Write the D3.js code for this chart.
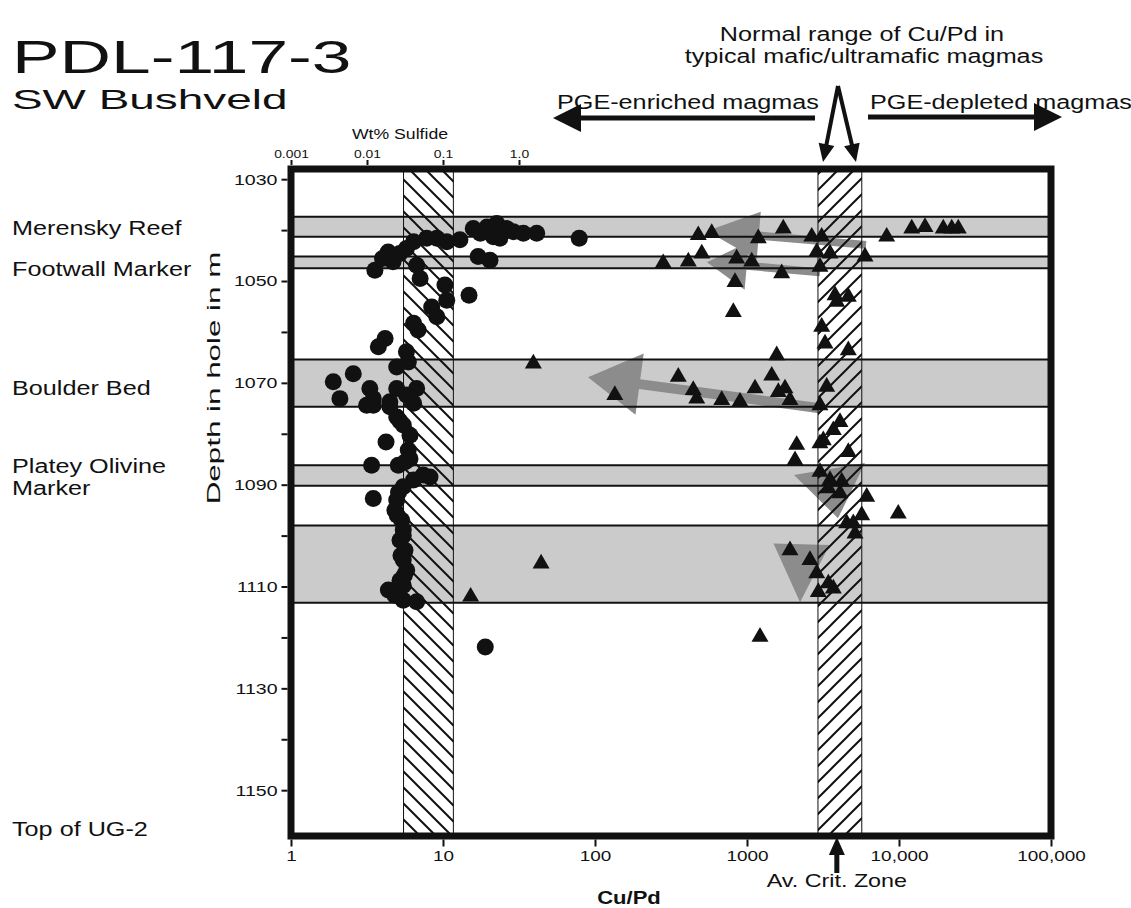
<!DOCTYPE html>
<html><head><meta charset="utf-8">
<script src="https://cdn.jsdelivr.net/npm/d3@7"></script>
<style>
body{margin:0;background:#fff;}
svg{display:block;}
text{font-family:"Liberation Sans",Arial,Helvetica,sans-serif;fill:#111;}
</style>
</head><body>
<svg id="chart" width="1131" height="908"></svg>
<script>
// ---------------- DATA ----------------
const cuPdTicks = [1, 10, 100, 1000, 10000, 100000];
const cuPdTickLabels = ["1", "10", "100", "1000", "10,000", "100,000"];
const sulfideTicks = [0.001, 0.01, 0.1, 1];
const sulfideTickLabels = ["0.001", "0.01", "0.1", "1.0"];
const depthTicks = [1030,1040,1050,1060,1070,1080,1090,1100,1110,1120,1130,1140,1150];
const depthTickLabels = ["1030","","1050","","1070","","1090","","1110","","1130","","1150"];

// stratigraphic layers (depth top, depth bottom) shaded grey
const greyLayers = [[1037.4,1041.3],[1045.2,1047.5],[1065.4,1074.7],[1086.2,1090.2],[1098.0,1113.2]];
const layerNames = ["Merensky Reef","Footwall Marker","Boulder Bed","Platey Olivine","Marker","Top of UG-2"];
const layerNameDepths = [1039.6,1047.6,1070.9,1086.3,1090.6,1157.5];

// hatched reference ranges on Cu/Pd axis
const sulfideRange = [5.5, 11.7];      // wt% sulfide band
const normalCuPdRange = [2930, 5690];  // normal mafic/ultramafic magma range
const avCritZone = 3900;

// wt% sulfide vs depth (circles)  [wt%, depth]
const sulfideData = [
 [6.2,1041.6],[0.25,1039.7],[0.38,1039.4],[0.51,1038.7],[0.69,1039.7],[0.84,1040.3],[1.14,1040.6],[1.71,1040.6],
 [0.56,1041.6],[0.46,1041.3],[0.31,1040.6],[0.167,1041.9],[0.112,1042.3],[0.083,1041.6],[0.061,1041.6],
 [0.041,1042.3],[0.033,1043.6],[0.027,1044.6],[0.019,1044.3],[0.022,1046.2],[0.016,1045.6],[0.0127,1047.9],
 [0.045,1046.9],[0.050,1049.5],[0.29,1045.2],[0.415,1045.9],
 [0.106,1050.8],[0.112,1053.8],[0.071,1055.1],[0.083,1057.0],[0.22,1052.8],[0.041,1058.3],[0.047,1059.6],
 [0.0173,1061.3],[0.0141,1062.9],[0.033,1063.9],[0.035,1065.9],[0.0246,1066.9],
 [0.0036,1069.8],[0.0066,1068.2],[0.0044,1073.1],[0.0109,1071.1],[0.0121,1073.1],[0.0246,1071.1],
 [0.045,1071.1],[0.033,1072.4],[0.020,1073.7],[0.0099,1074.4],[0.0121,1074.4],[0.020,1074.7],[0.041,1074.0],
 [0.0246,1076.7],[0.027,1077.5],[0.030,1078.3],[0.0368,1080.3],[0.0178,1081.6],[0.0349,1083.2],[0.0368,1084.9],
 [0.0115,1086.2],[0.0258,1086.2],[0.055,1088.1],[0.0675,1088.5],[0.041,1089.1],[0.030,1090.4],[0.032,1085.5],
 [0.0121,1092.7],[0.0246,1093.0],[0.026,1091.5],[0.0233,1095.0],[0.025,1096.0],[0.0286,1097.0],[0.030,1098.9],
 [0.030,1100.0],[0.0272,1100.9],[0.0316,1102.9],[0.028,1103.9],[0.030,1104.8],[0.0333,1106.8],[0.031,1107.8],
 [0.0272,1108.8],[0.030,1109.8],[0.0191,1110.7],[0.0233,1111.7],[0.030,1112.7],[0.045,1113.0],[0.36,1121.9]
];

// Cu/Pd vs depth (triangles)  [Cu/Pd, depth]
const cuPdData = [
 [478,1041.0],[586,1040.6],[1733,1039.7],[1187,1041.6],[2666,1041.3],[3100,1041.3],[8300,1041.3],
 [12130,1039.7],[14830,1039.4],[19550,1039.7],[22230,1039.7],[24550,1039.7],
 [504,1044.6],[411,1046.2],[281,1046.5],[855,1045.6],[1074,1046.2],[1691,1048.5],[2875,1044.3],
 [3516,1044.6],[5975,1045.2],[3020,1047.2],[834,1050.2],[813,1056.1],[3795,1052.8],[4640,1053.1],
 [3890,1054.1],[3100,1059.0],[3260,1062.3],[4640,1063.6],[1568,1064.6],[39.3,1066.2],
 [1454,1068.6],[353,1068.8],[443,1071.4],[1129,1071.1],[1607,1071.8],[1778,1071.1],[3345,1070.8],
 [135,1072.4],[467,1073.1],[682,1073.4],[899,1073.7],[1918,1073.4],[3020,1074.4],
 [4090,1077.7],[3698,1079.3],[3177,1081.3],[2123,1082.2],[2070,1085.2],[3020,1081.9],[4640,1083.6],
 [3020,1087.5],[3516,1089.1],[4200,1089.4],[3428,1090.7],[4090,1091.7],[6133,1092.4],[9890,1095.7],
 [5685,1096.0],[5003,1097.6],[4528,1097.6],[5137,1099.6],[1918,1102.9],[2596,1104.8],[44.2,1105.5],
 [2875,1107.4],[3428,1109.4],[3698,1110.4],[2945,1111.1],[15.2,1112.0],[1218,1119.9]
];

// grey trend arrows: [from Cu/Pd, from depth] -> [to Cu/Pd, to depth]
const trendFrom = [[6067,1042.9],[3020,1048.3],[3020,1075.0],[3490,1086.9],[2284,1101.7]];
const trendTo   = [[545,1040.2],[545,1046.3],[90,1068.9],[3970,1096.6],[2233,1113.1]];

// ---------------- DRAWING ----------------
const svg = d3.select("#chart");
const L = 291, R = 1051, T = 169, B = 836;
const x = d3.scaleLog().domain([1, 1e5]).range([L, R]);
const xs = d3.scaleLog().domain([0.001, 1e7]).range([L, R]);
const y = d3.scaleLinear().domain([1028, 1159]).range([T, B]);
const INK = "#111";
const K = 1.26; // horizontal stretch of the lettering in the original figure

function stretch(sel, k){
  sel.each(function(){
    const w = this.getComputedTextLength();
    this.setAttribute("textLength", (w*(k||K)).toFixed(1));
    this.setAttribute("lengthAdjust","spacingAndGlyphs");
  });
}
function arrowPts(x0,y0,x1,y1,len,hw,sw){
  const dx=x1-x0, dy=y1-y0, Ln=Math.hypot(dx,dy), ux=dx/Ln, uy=dy/Ln, px=-uy, py=ux;
  const bx=x1-ux*len, by=y1-uy*len;
  const pts=[];
  const shaft = Ln>len+1 && sw>0;
  if (shaft) pts.push([x0+px*sw/2,y0+py*sw/2],[bx+px*sw/2,by+py*sw/2]);
  pts.push([bx+px*hw,by+py*hw],[x1,y1],[bx-px*hw,by-py*hw]);
  if (shaft) pts.push([bx-px*sw/2,by-py*sw/2],[x0-px*sw/2,y0-py*sw/2]);
  return pts;
}

const defs = svg.append("defs");
const p1 = defs.append("pattern").attr("id","hatchBack").attr("patternUnits","userSpaceOnUse")
  .attr("width",16).attr("height",16);
p1.append("path").attr("d","M-4,-4 L20,20 M-4,12 L4,20 M12,-4 L20,4").attr("stroke",INK).attr("stroke-width",2);
const p2 = defs.append("pattern").attr("id","hatchFwd").attr("patternUnits","userSpaceOnUse")
  .attr("width",16).attr("height",16);
p2.append("path").attr("d","M-4,20 L20,-4 M-4,4 L4,-4 M12,20 L20,12").attr("stroke",INK).attr("stroke-width",2);

svg.append("rect").attr("width",1131).attr("height",908).attr("fill","#fff");

// grey layers
svg.append("g").selectAll("rect").data(greyLayers).join("rect")
  .attr("x",L).attr("width",R-L)
  .attr("y",d=>y(d[0])).attr("height",d=>y(d[1])-y(d[0]))
  .attr("fill","#cbcbcb");

// grey trend arrows
const heads = [[52,24,8],[40,24,8],[52,31,10],[50,36,0],[58,28,0]];
svg.append("g").selectAll("polygon").data(trendFrom).join("polygon")
  .attr("points",(d,i)=>arrowPts(x(d[0]),y(d[1]),x(trendTo[i][0]),y(trendTo[i][1]),heads[i][0],heads[i][1],heads[i][2]).map(p=>p.join(",")).join(" "))
  .attr("fill","#8c8c8c");

// hatched bands
[[sulfideRange,"hatchBack"],[normalCuPdRange,"hatchFwd"]].forEach(([r,id])=>{
  svg.append("rect").attr("x",x(r[0])).attr("width",x(r[1])-x(r[0]))
    .attr("y",T).attr("height",B-T).attr("fill",`url(#${id})`)
    .attr("stroke",INK).attr("stroke-width",1);
});

// layer boundary lines
const bounds = greyLayers.flat();
svg.append("g").selectAll("line").data(bounds).join("line")
  .attr("x1",L).attr("x2",R).attr("y1",d=>y(d)).attr("y2",d=>y(d))
  .attr("stroke",INK).attr("stroke-width",2);

// markers
svg.append("g").selectAll("circle").data(sulfideData).join("circle")
  .attr("cx",d=>xs(d[0])).attr("cy",d=>y(d[1])).attr("r",8.5).attr("fill",INK);
const tri = d3.symbol(d3.symbolTriangle, 125);
svg.append("g").selectAll("path").data(cuPdData).join("path")
  .attr("d",tri).attr("transform",d=>`translate(${x(d[0])},${y(d[1])})`).attr("fill",INK);

// axes
const gB = svg.append("g").attr("transform",`translate(0,${B+3.5})`)
  .call(d3.axisBottom(x).tickValues(cuPdTicks).tickFormat((d,i)=>cuPdTickLabels[i]).tickSize(7).tickPadding(4));
const gT = svg.append("g").attr("transform",`translate(0,${T-4})`)
  .call(d3.axisTop(xs).tickValues(sulfideTicks).tickFormat((d,i)=>sulfideTickLabels[i]).tickSize(5).tickPadding(2));
const gL = svg.append("g").attr("transform",`translate(${L-3.5},0)`)
  .call(d3.axisLeft(y).tickValues(depthTicks).tickFormat((d,i)=>depthTickLabels[i]).tickSize(6).tickPadding(4));
[gB,gT,gL].forEach(g=>{
  g.select(".domain").remove();
  g.selectAll(".tick line").attr("stroke",INK).attr("stroke-width",2);
  g.selectAll("text").attr("fill",INK).style("font-family",'"Liberation Sans",Arial,sans-serif');
});
gB.selectAll("text").style("font-size","15px").call(stretch);
gT.selectAll("text").style("font-size","11px").call(stretch);
gL.selectAll("text").style("font-size","15.5px").call(stretch);

// frame
svg.append("rect").attr("x",L).attr("y",T).attr("width",R-L).attr("height",B-T)
  .attr("fill","none").attr("stroke",INK).attr("stroke-width",7);

// texts
function txt(s,xp,yp,size,anchor,weight,k){
  return svg.append("text").attr("x",xp).attr("y",yp).attr("text-anchor",anchor||"start")
    .style("font-size",size+"px").style("font-weight",weight||"normal").text(s).call(stretch,k);
}
txt("PDL-117-3",12,73,46,"start","normal",1.55);
txt("SW Bushveld",12,108.5,28,"start","normal",1.64);
txt("Normal range of Cu/Pd in",862,41,20,"middle");
txt("typical mafic/ultramafic magmas",864,63,20,"middle");
txt("PGE-enriched magmas",557,109,20);
txt("PGE-depleted magmas",870,109,20);
txt("Wt% Sulfide",400,139,14,"middle");
txt("Av. Crit. Zone",x(avCritZone),887,18.5,"middle");
txt("Cu/Pd",629,904,17.5,"middle","bold");

svg.append("g").selectAll("text").data(layerNames).join("text")
  .attr("x",12).attr("y",(d,i)=>y(layerNameDepths[i])).attr("dy","0.36em")
  .style("font-size","20px").text(d=>d).call(stretch);

svg.append("text").attr("transform","translate(220,378) rotate(-90)").attr("text-anchor","middle")
  .style("font-size","19px").text("Depth in hole in m").call(stretch,1.65);

// black annotation arrows
const blackArrows = [
  [815,118,553,118,28,14,5],[868,117,1062,117,28,14,5],
  [838,86,823,162,18,8,4],[838,86,856,162,18,8,4]
];
svg.append("g").selectAll("polygon").data(blackArrows).join("polygon")
  .attr("points",d=>arrowPts(...d).map(p=>p.join(",")).join(" ")).attr("fill",INK);
// Av. Crit. Zone arrow
svg.append("polygon")
  .attr("points",arrowPts(x(avCritZone),873,x(avCritZone),B+1,18,8,5).map(p=>p.join(",")).join(" "))
  .attr("fill",INK);
</script>
</body></html>
